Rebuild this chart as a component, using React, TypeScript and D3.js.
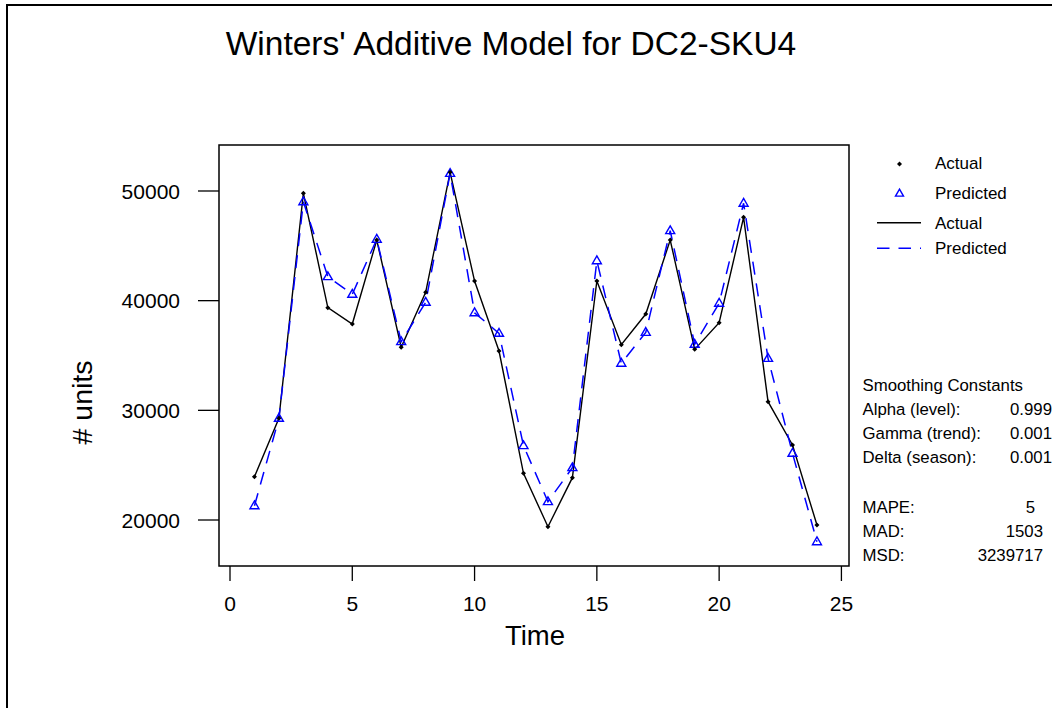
import React from "react";
import * as d3 from "d3";

const times: number[] = Array.from({ length: 24 }, (_, i) => i + 1);
const actual: number[] = [23950, 29270, 49790, 39360, 37870, 45530, 35750, 40760, 51700, 41790, 35410, 24260, 19390, 23860, 41790, 35990, 38780, 45530, 35560, 37990, 47600, 30790, 26840, 19540];
const predicted: number[] = [21300, 29270, 49020, 42190, 40580, 45600, 36260, 39850, 51600, 38900, 37020, 26780, 21670, 24770, 43640, 34290, 37110, 46380, 36020, 39760, 48880, 34740, 26080, 18020];
const xTicks: number[] = [0, 5, 10, 15, 20, 25];
const yTicks: number[] = [20000, 30000, 40000, 50000];
const legendItems: string[] = ["Actual", "Predicted", "Actual", "Predicted"];
const smoothingLabels: string[] = ["Alpha (level):", "Gamma (trend):", "Delta (season):"];
const smoothingValues: string[] = ["0.999", "0.001", "0.001"];
const accuracyLabels: string[] = ["MAPE:", "MAD:", "MSD:"];
const accuracyValues: string[] = ["5", "1503", "3239717"];

const FONT = "'Liberation Sans', Arial, Helvetica, sans-serif";
const BLUE = "#0000ff";

export default function App() {
  const plot = { left: 219, right: 849, top: 145, bottom: 566 };
  const x = d3.scaleLinear().domain([-0.45, 25.31]).range([plot.left, plot.right]);
  const y = d3.scaleLinear().domain([15806, 54194]).range([plot.bottom, plot.top]);

  const lineGen = d3
    .line<number>()
    .x((_, i) => x(times[i]))
    .y((d) => y(d));

  const tri = (cx: number, cy: number, s: number) => {
    const h = s * 0.87;
    return `M${cx},${cy - h * 0.62} L${cx + s / 2},${cy + h * 0.38} L${cx - s / 2},${cy + h * 0.38} Z`;
  };
  const diamond = (cx: number, cy: number, r: number) =>
    `M${cx},${cy - r} L${cx + r},${cy} L${cx},${cy + r} L${cx - r},${cy} Z`;

  return (
    <div style={{ position: "absolute", left: 0, top: 0 }}>
      <svg width={1052} height={708} style={{ display: "block", background: "#fff" }} fontFamily={FONT}>
        <rect x={0} y={0} width={1052} height={708} fill="#fff" />
        {/* outer border */}
        <rect x={7} y={5} width={1100} height={760} fill="none" stroke="#000" strokeWidth={2} />

        {/* title */}
        <text x={511} y={55} textAnchor="middle" fontSize={33.5} fill="#000">
          Winters' Additive Model for DC2-SKU4
        </text>

        {/* plot frame */}
        <rect
          x={plot.left}
          y={plot.top}
          width={plot.right - plot.left}
          height={plot.bottom - plot.top}
          fill="none"
          stroke="#000"
          strokeWidth={1.5}
        />

        {/* y ticks */}
        {yTicks.map((t) => (
          <g key={"y" + t}>
            <line x1={198} x2={plot.left} y1={y(t)} y2={y(t)} stroke="#000" strokeWidth={1.3} />
            <text x={180} y={y(t)} dy="0.36em" textAnchor="end" fontSize={21} fill="#000">
              {t}
            </text>
          </g>
        ))}

        {/* x ticks */}
        {xTicks.map((t) => (
          <g key={"x" + t}>
            <line x1={x(t)} x2={x(t)} y1={plot.bottom} y2={plot.bottom + 15} stroke="#000" strokeWidth={1.3} />
            <text x={x(t)} y={610.5} textAnchor="middle" fontSize={21} fill="#000">
              {t}
            </text>
          </g>
        ))}

        {/* axis titles */}
        <text x={535} y={645} textAnchor="middle" fontSize={27.5} fill="#000">
          Time
        </text>
        <text transform="translate(92,402.5) rotate(-90)" textAnchor="middle" fontSize={28.5} fill="#000">
          # units
        </text>

        {/* series lines */}
        <path d={lineGen(actual) || ""} fill="none" stroke="#000" strokeWidth={1.4} />
        <path d={lineGen(predicted) || ""} fill="none" stroke={BLUE} strokeWidth={1.5} strokeDasharray="13 9" />

        {/* markers */}
        {predicted.map((v, i) => (
          <path key={"p" + i} d={tri(x(times[i]), y(v), 9)} fill="none" stroke={BLUE} strokeWidth={1.4} />
        ))}
        {actual.map((v, i) => (
          <path key={"a" + i} d={diamond(x(times[i]), y(v), 2.5)} fill="#000" stroke="none" />
        ))}

        {/* legend */}
        <path d={diamond(899.5, 164, 2.5)} fill="#000" />
        <path d={tri(899.5, 193.5, 8)} fill="none" stroke={BLUE} strokeWidth={1.4} />
        <line x1={877} x2={921} y1={222.7} y2={222.7} stroke="#000" strokeWidth={1.4} />
        <line x1={877} x2={921} y1={248.3} y2={248.3} stroke={BLUE} strokeWidth={1.5} strokeDasharray="12.5 9" />
        {legendItems.map((s, i) => (
          <text key={"l" + i} x={935} y={[169.3, 199.3, 228.7, 254][i]} fontSize={17} fill="#000">
            {s}
          </text>
        ))}

        {/* smoothing constants */}
        <text x={862.5} y={390.5} fontSize={16.8} fill="#000">
          Smoothing Constants
        </text>
        {smoothingLabels.map((s, i) => (
          <g key={"s" + i}>
            <text x={862.5} y={415 + i * 24} fontSize={16.8} fill="#000">
              {s}
            </text>
            <text x={1010} y={415 + i * 24} fontSize={16.8} fill="#000">
              {smoothingValues[i]}
            </text>
          </g>
        ))}
        {accuracyLabels.map((s, i) => (
          <g key={"m" + i}>
            <text x={862.5} y={513.3 + i * 24} fontSize={16.8} fill="#000">
              {s}
            </text>
            <text x={i === 0 ? 1035 : 1043} y={513.3 + i * 24} textAnchor="end" fontSize={16.8} fill="#000">
              {accuracyValues[i]}
            </text>
          </g>
        ))}
      </svg>
    </div>
  );
}
